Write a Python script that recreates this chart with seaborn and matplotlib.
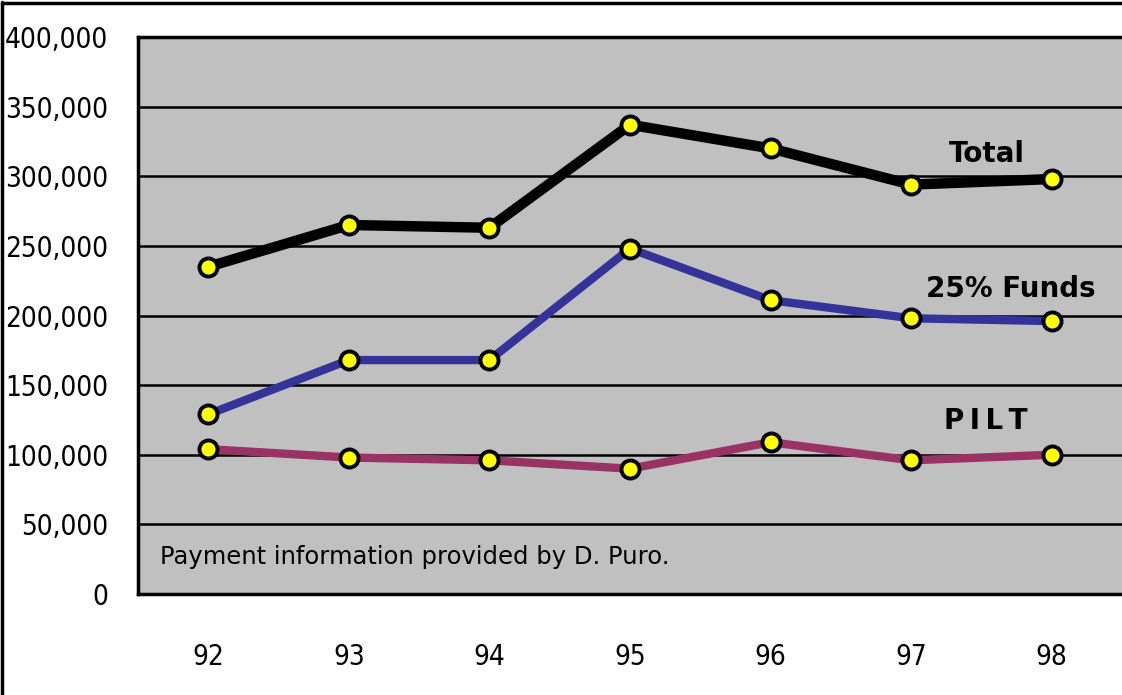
import matplotlib
matplotlib.use("Agg")
import matplotlib.pyplot as plt
import matplotlib.lines as mlines
import seaborn as sns
import pandas as pd
from matplotlib.ticker import FuncFormatter

years = [92, 93, 94, 95, 96, 97, 98]
total = [235000, 265000, 263000, 337000, 320000, 294000, 298000]
funds = [129000, 168000, 168000, 248000, 211000, 198000, 196000]
pilt = [104000, 98000, 96000, 90000, 109000, 96000, 100000]

series_names = ["Total", "25% Funds", "PILT"]
series_colors = ["#000000", "#333399", "#993366"]
series_widths = [7.5, 6, 6]

df = pd.DataFrame({"year": years, "Total": total, "25% Funds": funds, "PILT": pilt})

sns.set_style("white")
plt.rcParams["font.family"] = ["DejaVu Sans"]
plt.rcParams["text.color"] = "black"
plt.rcParams["xtick.color"] = "black"
plt.rcParams["ytick.color"] = "black"

fig = plt.figure(figsize=(11.22, 6.95), dpi=100)
ax = fig.add_axes([138 / 1122, 101 / 695, 1 - 138 / 1122, 557 / 695])
ax.set_facecolor("#C0C0C0")

for name, col, lw in zip(series_names, series_colors, series_widths):
    sns.lineplot(
        x="year",
        y=name,
        data=df,
        ax=ax,
        color=col,
        linewidth=lw,
        marker="o",
        markersize=13,
        markerfacecolor="#FFFF00",
        markeredgecolor="black",
        markeredgewidth=2.8,
        zorder=3,
    )

ax.set_xlim(91.5, 98.5)
ax.set_ylim(0, 400000)
ax.set_yticks(range(0, 400001, 50000))
ax.set_xticks(years)
ax.yaxis.set_major_formatter(FuncFormatter(lambda v, p: f"{int(v):,}"))
ax.grid(axis="y", color="black", linewidth=1.8)
ax.set_axisbelow(True)
ax.set_xlabel("")
ax.set_ylabel("")
ax.tick_params(axis="y", length=0, pad=21.5)
ax.tick_params(axis="x", length=0, pad=35)
for t in ax.get_yticklabels() + ax.get_xticklabels():
    t.set_fontsize(20)
    t.set_fontstretch("condensed")

for side in ["left", "top", "bottom"]:
    ax.spines[side].set_color("black")
    ax.spines[side].set_linewidth(2.5)
ax.spines["right"].set_visible(False)

lab = dict(fontsize=20, fontweight="bold", ha="center", va="center")
ax.text(97.54, 316000, "Total", **lab)
ax.text(97.71, 219000, "25% Funds", **lab)
ax.text(97.53, 124000, "P\u2009I\u2009L\u2009T", **lab)

ax.text(91.66, 26500, "Payment information provided by D. Puro.",
        fontsize=17.5, ha="left", va="center")

# border at top and left of the picture
fig.add_artist(mlines.Line2D([2 / 1122, 2 / 1122], [0, 1 - 2 / 695], color="black", linewidth=2.5))
fig.add_artist(mlines.Line2D([2 / 1122, 1], [1 - 3 / 695, 1 - 3 / 695], color="black", linewidth=2.5))

fig.savefig("out.png", dpi=100)
